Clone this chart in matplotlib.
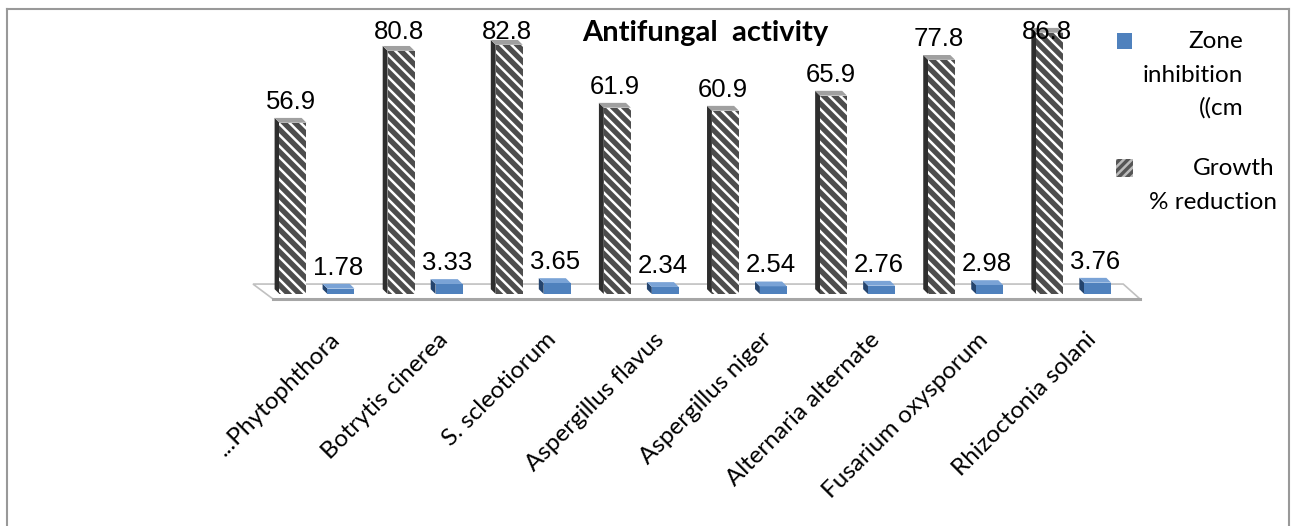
import numpy as np
import matplotlib.pyplot as plt
from matplotlib.patches import Polygon, Rectangle
from matplotlib.lines import Line2D

# data
categories = ['...Phytophthora', 'Botrytis cinerea', 'S. scleotiorum', 'Aspergillus flavus',
              'Aspergillus niger', 'Alternaria alternate', 'Fusarium oxysporum', 'Rhizoctonia solani']
zone_inhibition = [1.78, 3.33, 3.65, 2.34, 2.54, 2.76, 2.98, 3.76]
growth_reduction = [56.9, 80.8, 82.8, 61.9, 60.9, 65.9, 77.8, 86.8]

W, H = 1293, 526
plt.rcParams['hatch.linewidth'] = 1.8
plt.rcParams['hatch.color'] = 'white'

fig = plt.figure(figsize=(W / 100, H / 100), dpi=100)
fig.patch.set_facecolor('white')
ax = fig.add_axes([240 / W, 1 - 310 / H, 920 / W, 290 / H])
ax.set_xlim(-0.490, 8.020)
ax.set_ylim(-5.32, 91.03)
for s in ax.spines.values():
    s.set_visible(False)
ax.set_yticks([])

n = len(categories)
x = np.arange(n)
bw = 0.25            # front face width
dx, dy = -0.045, 1.6  # 3d depth offset

# floor
floor = Polygon([(-0.37, 3.3), (n - 0.32, 3.3), (n - 0.165, -1.66), (-0.185, -1.66)],
                closed=True, facecolor='white', edgecolor='#c0c0c0', lw=1.2, zorder=1)
ax.add_patch(floor)
ax.plot([-0.185, n - 0.165], [-1.66, -1.66], color='#a6a6a6', lw=2.2, zorder=1)


def draw_bars(xs, vals, face, side, top, hatch=None):
    bars = ax.bar(xs, vals, width=bw, color=face, hatch=hatch, edgecolor='white',
                  linewidth=0, zorder=3)
    for b in bars:
        x0 = b.get_x()
        x1 = x0 + b.get_width()
        h = b.get_height()
        ax.add_patch(Polygon([(x0, 0), (x0 + dx, dy), (x0 + dx, h + dy), (x0, h)],
                             facecolor=side, edgecolor='none', zorder=2))
        ax.add_patch(Polygon([(x0, h), (x1, h), (x1 + dx, h + dy), (x0 + dx, h + dy)],
                             facecolor=top, edgecolor='none', zorder=3))
    return bars


draw_bars(x, growth_reduction, '#4d4d4d', '#2e2e2e', '#a0a0a0', hatch='\\\\\\')
draw_bars(x + 0.444, zone_inhibition, '#4f81bd', '#24446e', '#7aa3d6')

# value labels (clamped at the top of the plot area like the original)
for xs, vals in [(x, growth_reduction), (x + 0.444, zone_inhibition)]:
    for xi, v in zip(xs, vals):
        ax.text(xi + dx / 2, min(v + 7.0, 87.0), f'{v}', ha='center', va='center',
                fontsize=18.5, family='Liberation Sans', color='black', zorder=5)

ax.set_xticks(x + 0.40)
ax.set_xticklabels(categories, rotation=45, ha='right', va='center',
                   rotation_mode='anchor', fontsize=17.5, family='Lato')
ax.tick_params(axis='x', length=0, pad=19)

# title
fig.text(705 / W, 1 - 33 / H, 'Antifungal  activity', ha='center', va='center',
         fontsize=21, fontweight='bold', family='Lato')

# legend (hand placed)
fig.add_artist(Rectangle((1117 / W, 1 - 49 / H), 15 / W, 16 / H, transform=fig.transFigure,
                         facecolor='#4f81bd', edgecolor='none'))
fig.add_artist(Rectangle((1116 / W, 1 - 177 / H), 17 / W, 18 / H, transform=fig.transFigure,
                         facecolor='#555555', edgecolor='#bbbbbb', lw=0, hatch='////'))
for txt, px, py in [('Zone', 1243, 42), ('inhibition', 1243, 75), ('((cm', 1243, 108),
                    ('Growth', 1275, 168), ('% reduction', 1277, 202)]:
    fig.text(px / W, 1 - py / H, txt, ha='right', va='center', fontsize=17.5, family='Lato')

# outer border
bc = '#999999'
fig.add_artist(Line2D([7 / W, 7 / W], [0, 1 - 9 / H], color=bc, lw=1.5, transform=fig.transFigure))
fig.add_artist(Line2D([7 / W, 1289 / W], [1 - 9 / H, 1 - 9 / H], color=bc, lw=1.5,
                      transform=fig.transFigure))
fig.add_artist(Line2D([1289 / W, 1289 / W], [0, 1 - 9 / H], color=bc, lw=1.5,
                      transform=fig.transFigure))

fig.savefig('out.png', dpi=100, facecolor='white')
